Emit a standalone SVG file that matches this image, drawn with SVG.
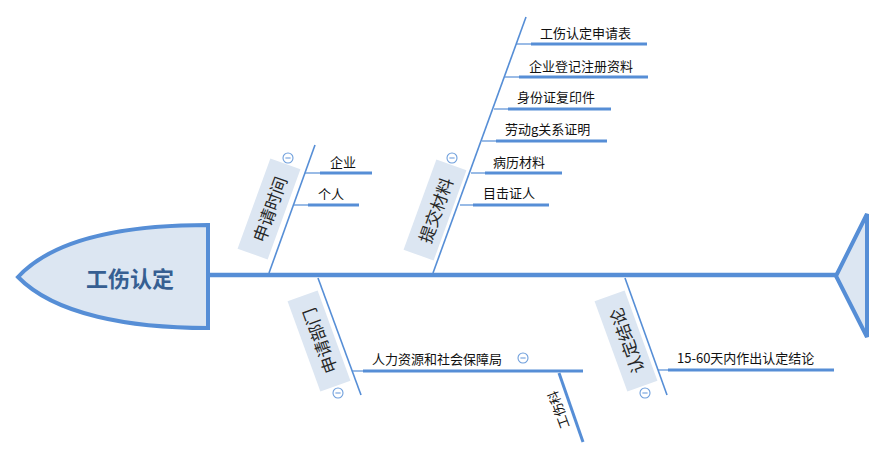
<svg xmlns="http://www.w3.org/2000/svg" width="886" height="464" viewBox="0 0 886 464">
<style>
.spine{stroke:#568ed6;stroke-width:4.5;fill:none}
.br{stroke:#568ed6;stroke-width:1.6;fill:none}
.thin{stroke:#568ed6;stroke-width:1.2;fill:none}
.thick{stroke:#568ed6;stroke-width:3;fill:none}
.shape{fill:#dce6f2;stroke:#568ed6;stroke-width:4;stroke-linejoin:miter}
.box{fill:#dce6f2;stroke:none}
.cat{font-family:"Noto Sans CJK SC","Liberation Sans",sans-serif;font-size:17px;fill:#262626;text-anchor:middle;dominant-baseline:central}
.sub{font-family:"Noto Sans CJK SC","Liberation Sans",sans-serif;font-size:13px;fill:#111111}
.head{font-family:"Noto Sans CJK SC","Liberation Sans",sans-serif;font-size:22px;font-weight:bold;fill:#365f92;text-anchor:middle;dominant-baseline:central}
.col circle{fill:#ffffff;stroke:#6f9fdc;stroke-width:1.1}
.col line{stroke:#6f9fdc;stroke-width:1.1}
</style>
<defs>
<g id="minus" class="col"><circle cx="0" cy="0" r="5"/><line x1="-2.6" y1="0" x2="2.6" y2="0"/></g>
</defs>
<g id="connectors">
<line class="spine" x1="207" y1="275" x2="836" y2="275"/>
<line class="br" x1="269" y1="273" x2="315" y2="145"/>
<line class="br" x1="433" y1="273" x2="526" y2="17"/>
<line class="br" x1="318" y1="278" x2="361" y2="395"/>
<line class="br" x1="625" y1="278" x2="667" y2="395"/>
<line class="thin" x1="305" y1="173" x2="321" y2="173"/>
<line class="thick" x1="320" y1="173" x2="372" y2="173"/>
<line class="thin" x1="294" y1="205" x2="309" y2="205"/>
<line class="thick" x1="308" y1="205" x2="359" y2="205"/>
<line class="thin" x1="516" y1="44" x2="532" y2="44"/>
<line class="thick" x1="531" y1="44" x2="647" y2="44"/>
<line class="thin" x1="505" y1="77" x2="520" y2="77"/>
<line class="thick" x1="519" y1="77" x2="648" y2="77"/>
<line class="thin" x1="494" y1="109" x2="509" y2="109"/>
<line class="thick" x1="508" y1="109" x2="611" y2="109"/>
<line class="thin" x1="482" y1="141" x2="497" y2="141"/>
<line class="thick" x1="496" y1="141" x2="607" y2="141"/>
<line class="thin" x1="471" y1="173" x2="486" y2="173"/>
<line class="thick" x1="485" y1="173" x2="562" y2="173"/>
<line class="thin" x1="460" y1="205" x2="474" y2="205"/>
<line class="thick" x1="473" y1="205" x2="549" y2="205"/>
<line class="thin" x1="352" y1="371" x2="364" y2="371"/>
<line class="thick" x1="363" y1="371" x2="583" y2="371"/>
<line class="thick" x1="559" y1="373" x2="583" y2="442"/>
<line class="thin" x1="658" y1="370" x2="669" y2="370"/>
<line class="thick" x1="668" y1="370" x2="834" y2="370"/>
</g>
<g id="head">
<path class="shape" d="M208,225 L208,328 C130,328 55,315 18,277 C55,237 130,225 208,225 Z"/>
<text class="head" x="130" y="277">工伤认定</text>
</g>
<g id="tail">
<path class="shape" d="M836,276 L867,214 L867,337 Z"/>
</g>
<g id="cat-shenqingshijian">
<rect class="box" x="-48" y="-16" width="96" height="32" transform="translate(269,209) rotate(-70)"/>
<text class="cat" transform="translate(269,209) rotate(-70)">申请时间</text>
<use href="#minus" x="288" y="158"/>
</g>
<g id="cat-tijiaocailiao">
<rect class="box" x="-48" y="-16" width="96" height="32" transform="translate(435,210) rotate(-70)"/>
<text class="cat" transform="translate(435,210) rotate(-70)">提交材料</text>
<use href="#minus" x="452" y="158"/>
</g>
<g id="cat-shenqingbumen">
<rect class="box" x="-48" y="-16" width="96" height="32" transform="translate(319,341) rotate(-110)"/>
<text class="cat" transform="translate(319,341) rotate(-110)">申请部门</text>
<use href="#minus" x="338" y="393"/>
</g>
<g id="cat-rendingjielun">
<rect class="box" x="-48" y="-16" width="96" height="32" transform="translate(626,341) rotate(-110)"/>
<text class="cat" transform="translate(626,341) rotate(-110)">认定结论</text>
<use href="#minus" x="645" y="393"/>
</g>
<g id="n-qiye"><text class="sub" x="330" y="167">企业</text></g>
<g id="n-geren"><text class="sub" x="318" y="199">个人</text></g>
<g id="n-sqb"><text class="sub" x="540" y="38">工伤认定申请表</text></g>
<g id="n-qydj"><text class="sub" x="529" y="71">企业登记注册资料</text></g>
<g id="n-sfz"><text class="sub" x="517" y="102">身份证复印件</text></g>
<g id="n-ldgx"><text class="sub" x="505" y="134">劳动g关系证明</text></g>
<g id="n-blcl"><text class="sub" x="493" y="167">病历材料</text></g>
<g id="n-mjzr"><text class="sub" x="483" y="198">目击证人</text></g>
<g id="n-rlzy">
<text class="sub" x="372" y="364">人力资源和社会保障局</text>
<use href="#minus" x="523" y="358"/>
</g>
<g id="n-gsk"><text class="sub" transform="translate(558,410) rotate(-110)" text-anchor="middle" dominant-baseline="central">工伤科</text></g>
<g id="n-jl"><text class="sub" x="677" y="363">15-60天内作出认定结论</text></g>
</svg>
